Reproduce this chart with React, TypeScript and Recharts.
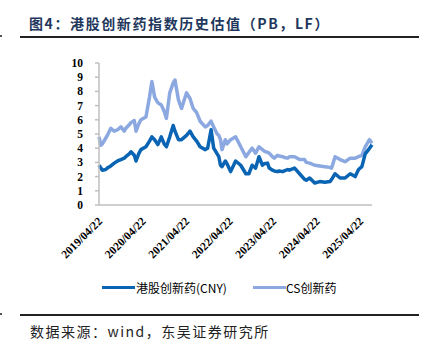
import React from 'react';
import { LineChart, Line, XAxis, YAxis } from 'recharts';

// --- Data ---
const dates = [
  '2019/04/22', '2019/05/08', '2019/05/20', '2019/06/17', '2019/07/01', '2019/07/30', '2019/08/28',
  '2019/09/25', '2019/10/23', '2019/11/20', '2019/12/03', '2020/01/01', '2020/01/15', '2020/02/12',
  '2020/02/27', '2020/03/20', '2020/04/08', '2020/05/20', '2020/06/19', '2020/07/09', '2020/08/01',
  '2020/08/28', '2020/09/26', '2020/10/20', '2020/11/08', '2020/12/06', '2021/01/04', '2021/01/19',
  '2021/02/17', '2021/03/15', '2021/04/26', '2021/05/25', '2021/06/21', '2021/07/20', '2021/08/18',
  '2021/09/30', '2021/10/20', '2021/11/18', '2021/12/10', '2022/01/08', '2022/01/22', '2022/02/05',
  '2022/02/18', '2022/03/18', '2022/04/01', '2022/05/01', '2022/06/12', '2022/07/25', '2022/09/06',
  '2022/10/01', '2022/10/29', '2022/11/27', '2022/12/25', '2023/01/23', '2023/02/06', '2023/03/07',
  '2023/03/21', '2023/04/18', '2023/05/02', '2023/05/30', '2023/06/13', '2023/07/12', '2023/07/26',
  '2023/08/23', '2023/09/06', '2023/10/20', '2023/12/01', '2024/01/12', '2024/01/26', '2024/02/24',
  '2024/04/06', '2024/05/19', '2024/06/30', '2024/08/12', '2024/08/26', '2024/09/24', '2024/11/05',
  '2024/12/17', '2025/01/29', '2025/03/12', '2025/04/09', '2025/05/07', '2025/06/04', '2025/07/02',
  '2025/07/10', '2025/07/31',
];

// 港股创新药(CNY)
const hkInnovDrug = [
  2.8, 2.6, 2.45, 2.5, 2.6, 2.75, 2.95,
  3.1, 3.2, 3.3, 3.4, 3.6, 3.75, 3.5,
  3.1, 3.6, 3.9, 4.1, 4.5, 4.8, 4.6,
  4.25, 4.8, 4.3, 4.1, 4.8, 5.6, 5.2,
  4.6, 4.6, 4.9, 5.2, 4.8, 4.5, 4.1,
  3.9, 4.0, 5.3, 4.0, 3.6, 3.4, 2.8,
  2.7, 3.1, 2.9, 2.35, 3.1, 2.8, 2.2,
  2.2, 2.8, 2.6, 3.4, 2.8, 2.9, 2.95,
  2.6, 2.45, 2.4, 2.35, 2.4, 2.35, 2.4,
  2.5, 2.45, 2.6, 2.2, 1.8, 1.75, 1.9,
  1.55, 1.65, 1.6, 1.65, 1.8, 2.2, 1.9,
  1.9, 2.2, 2.0, 2.5, 2.7, 3.6, 3.9,
  4.0, 4.25,
];

// CS创新药
const csInnovDrug = [
  4.8, 4.2, 4.3, 4.7, 4.9, 5.4, 5.2,
  5.3, 5.5, 5.2, 5.4, 5.65, 5.8, 5.95,
  5.2, 5.7, 6.0, 6.2, 7.6, 8.7, 7.6,
  7.2, 7.05, 6.6, 6.1, 7.9, 8.6, 8.8,
  7.4, 6.8, 7.9, 7.5, 6.8, 6.5, 5.9,
  5.5, 5.6, 5.9, 5.5, 5.0, 4.9, 4.6,
  3.9, 4.6, 4.3, 4.6, 4.8, 4.1, 3.4,
  3.7, 4.0, 3.65, 4.1, 3.9, 3.8, 3.7,
  3.65, 3.4, 3.3, 3.5, 3.45, 3.4, 3.35,
  3.3, 3.4, 3.4, 3.2, 3.2, 3.0, 2.95,
  2.8, 2.75, 2.7, 2.65, 2.6, 3.4, 3.2,
  3.05, 3.3, 3.3, 3.4, 3.5, 4.1, 4.5,
  4.6, 4.35,
];

const xTickLabels = [
  '2019/04/22', '2020/04/22', '2021/04/22', '2022/04/22', '2023/04/22', '2024/04/22', '2025/04/22',
];
const yTicks = [0, 1, 2, 3, 4, 5, 6, 7, 8, 9, 10];

// --- Colors ---
const DARK_BLUE = '#0a64b4';
const LIGHT_BLUE = '#8ca8e0';
const AXIS_GRAY = '#bfbfbf';
const TITLE_COLOR = '#22375c';

const toTime = (d: string) => Date.parse(d.replace(/\//g, '-'));

const data = dates.map((d, i) => ({ t: toTime(d), hk: hkInnovDrug[i], cs: csInnovDrug[i] }));
const labelByTime = new Map(xTickLabels.map((l) => [toTime(l), l]));

const serifBold = '"Liberation Serif", "Times New Roman", serif';
const cjk = '"Noto Sans CJK SC", sans-serif';

function DateTick({ x, y, payload }: any) {
  return (
    <g transform={`translate(${x + 4},${y + 17})`}>
      <text
        x={0}
        y={0}
        textAnchor="end"
        transform="rotate(-45)"
        fontFamily={serifBold}
        fontWeight="bold"
        fontSize={11.5}
        fill="#000"
      >
        {labelByTime.get(payload.value)}
      </text>
    </g>
  );
}

function Rule({ top }: { top: number }) {
  return (
    <>
      <div style={{ position: 'absolute', left: 0, top: top - 1, width: 2, height: 2, background: '#555' }} />
      <div style={{ position: 'absolute', left: 20, top, width: 399, height: 1.5, background: '#222' }} />
    </>
  );
}

export default function App() {
  return (
    <div style={{ position: 'absolute', left: 0, top: 0, width: 426, height: 352, background: '#fff', overflow: 'hidden' }}>
      <div
        style={{
          position: 'absolute',
          left: 29,
          top: 13,
          fontFamily: cjk,
          fontWeight: 'bold',
          fontSize: 14,
          letterSpacing: 1.6,
          color: TITLE_COLOR,
          whiteSpace: 'nowrap',
        }}
      >
        图4：港股创新药指数历史估值（PB，LF）
      </div>
      <Rule top={36} />

      <div style={{ position: 'absolute', left: 0, top: 0 }}>
        <LineChart width={426} height={352} data={data} margin={{ top: 63, right: 54, bottom: 87, left: 0 }}>
          <XAxis
            dataKey="t"
            type="number"
            domain={[toTime('2019/04/22'), toTime('2025/07/31')]}
            ticks={xTickLabels.map(toTime)}
            tick={<DateTick />}
            tickLine={false}
            tickSize={0}
            tickMargin={0}
            height={60}
            stroke={AXIS_GRAY}
            strokeWidth={1.5}
            interval={0}
          />
          <YAxis
            width={99}
            domain={[0, 10]}
            ticks={yTicks}
            interval={0}
            stroke={AXIS_GRAY}
            strokeWidth={1.5}
            tickSize={4}
            tickMargin={12}
            tick={{ fontFamily: serifBold, fontWeight: 'bold', fontSize: 11.5, fill: '#000' }}
          />
          <Line type="linear" dataKey="cs" stroke={LIGHT_BLUE} strokeWidth={3.5} strokeLinejoin="round" dot={false} isAnimationActive={false} />
          <Line type="linear" dataKey="hk" stroke={DARK_BLUE} strokeWidth={3.5} strokeLinejoin="round" dot={false} isAnimationActive={false} />
        </LineChart>
      </div>

      {/* legend */}
      <div style={{ position: 'absolute', left: 102, top: 286, width: 33, height: 3, background: DARK_BLUE }} />
      <div style={{ position: 'absolute', left: 136, top: 279, fontFamily: cjk, fontSize: 12, color: '#000', whiteSpace: 'nowrap' }}>
        港股创新药(CNY)
      </div>
      <div style={{ position: 'absolute', left: 253, top: 286, width: 33, height: 3, background: LIGHT_BLUE }} />
      <div style={{ position: 'absolute', left: 286, top: 279, fontFamily: cjk, fontSize: 12, color: '#000', whiteSpace: 'nowrap' }}>
        CS创新药
      </div>

      <Rule top={314} />
      <div
        style={{
          position: 'absolute',
          left: 30,
          top: 321,
          fontFamily: cjk,
          fontSize: 14,
          letterSpacing: 1.5,
          color: '#222',
          whiteSpace: 'nowrap',
        }}
      >
        数据来源：wind，东吴证券研究所
      </div>
    </div>
  );
}
